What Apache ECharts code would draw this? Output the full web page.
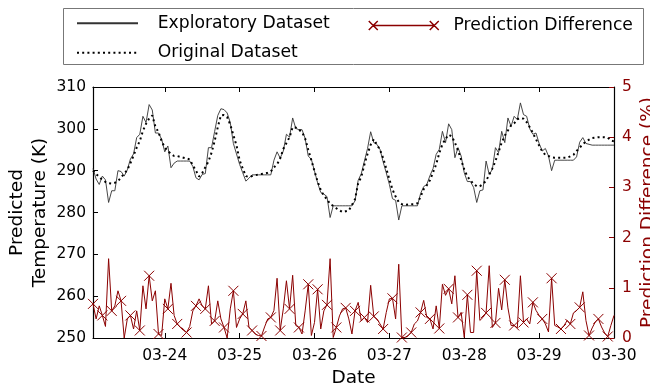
<!DOCTYPE html>
<html><head><meta charset="utf-8">
<script src="https://cdn.jsdelivr.net/npm/echarts@6/dist/echarts.min.js"></script>
<style>html,body{margin:0;padding:0;background:#fff}#c{width:650px;height:388px}</style>
</head><body><div id="c"></div>
<script>
// Hourly samples from 03-23 01:00 to 03-30 00:00
const days = ['03-23','03-24','03-25','03-26','03-27','03-28','03-29','03-30'];
const firstHour = 1;
const tickLabels = ['03-24','03-25','03-26','03-27','03-28','03-29','03-30'];

const exploratory = [
290.5,288,286.7,288.7,287.8,282.4,285.2,285.2,290,289.8,
288.7,290.2,292.8,294,297.9,298.7,303,301.5,305.8,304.5,
299,299,297.5,294.5,295.9,290.7,291.8,292.3,292.3,292.3,
292.3,292.3,291,288.3,287.8,289.1,289.3,295.5,295.5,299.4,
303.2,304.8,304.6,303.8,301.5,296.5,294,291.5,289.5,287.5,
288.2,289,289,289,289,289,289,289,292.5,294.5,
293,294.7,298.7,298,302.6,300.1,299.8,299.8,297.7,293.5,
292.7,289.9,287.1,284.8,284.4,283.8,278.8,281.6,281.6,281.6,
281.6,281.6,281.6,281.6,282.8,287.7,289.3,292.3,295.3,299.3,
296.7,296.3,295.1,292.1,289.5,286.7,283.3,282.9,278.2,281.6,
281.6,281.6,281.6,281.6,281.6,284.5,286.2,286.7,288.8,290.5,
293.9,295.1,299.4,296.7,301.2,299.8,293.1,295.5,293.5,289.5,
287.4,287.4,286,282.4,285.2,285.4,292.3,289.1,290.3,295.5,
294.3,299.4,296.7,302.6,300.6,303,302.2,306.2,303.4,303,
300,298.7,299,296.5,294.7,295.3,293.5,290,292.5,292.5,
292.5,292.5,292.5,292.5,292.5,293.3,296.8,297.9,296.5,296.3,
296.1,296.1,296.1,296.1,296.1,296.1,296.1,296.1];

const original = [
290,289.2,288.5,287.8,287.3,287,286.9,287.1,287.5,288.4,
289.3,290.2,291.8,293.6,295.5,297.1,299.5,301.2,302.5,303.2,
300.5,299.2,297.1,295.5,294.7,294,293.5,293.5,293.3,293.1,
292.9,292.7,291.3,290,288.6,289.4,290.8,292.2,294.3,297.1,
300.4,303.2,303.3,302.8,301,298.5,296,292.5,290.5,288.7,
288.5,288.7,288.9,289.1,289.2,289.3,289.5,289.8,290.8,291.5,
292.9,295.2,296.6,298,300.4,300.3,299.8,299.2,297.7,295,
292.5,289.9,287.4,285.4,284,283.2,282,281.6,281,280.5,
280.1,280.3,280.5,281.8,283.2,287,288.5,291.5,294,296.2,
297.5,296.2,295,293,290.5,287.9,285.5,283.8,282.5,282,
281.8,281.9,282,282,282.2,283.8,285.6,286.5,287.7,289.6,
291.5,294.2,296.3,297.6,298.6,298.2,296.7,294.8,292.6,290.3,
288.6,287.7,286.8,286.3,286.3,286.8,287.6,289,290.5,292.3,
294.5,296.7,298.4,299.6,300.8,301.3,302.3,302.6,302.4,301.6,
300.4,299,297.5,296,294.6,293.8,293.5,293.2,293.1,293.1,
293.1,293.1,293.1,293.4,293.8,294.7,295.5,296.3,297,297.4,
297.8,297.9,298,298,298,297.9,297.2,297];

const predDiff = [
0.68,0.38,0.64,0.45,0.23,1.58,0.54,0.64,0.94,0.74,
0,0.38,0.45,0.18,0.54,0.15,1.04,0.58,1.24,0.74,
0.94,0.08,0.05,0.78,0.58,1.09,0.45,0.28,0.21,0.15,
0.11,0.23,0.54,0.64,0.78,0.64,0.58,1.04,0.28,0.34,
0.74,0.38,0.21,0,0.58,0.94,0.21,0.38,0.48,0.74,
0.21,0.15,0.08,0.05,0.04,0.22,0.38,0.41,0.55,1.19,
0.15,0.58,1.14,0.58,1.25,0.25,0.21,0.08,0.54,1.07,
0.05,0.31,0.97,0.18,0.54,0.66,1.58,0.01,0.21,0.44,
0.58,0.6,0.38,0.08,0.54,0.71,0.34,0.41,0.31,1.05,
0.43,0.38,0.28,0.18,0.51,0.78,0.79,0.38,1.47,0.01,
0.01,0.05,0.11,0.28,0.34,0.51,0.75,0.41,0.38,0.18,
0.64,0.19,1.07,0.85,0.98,0.68,1.24,0.41,0.51,0.01,
0.86,0.11,0.11,1.34,0.35,0.41,0.5,1.44,0.21,0.3,
0.99,0.56,1.16,0.6,0.25,0.25,0.2,1.24,0.31,0.38,
0.28,0.71,0.55,0.45,0.38,0.28,0.12,1.19,0.25,0.22,
0.18,0.25,0.35,0.28,0.5,0.55,0.61,0.92,0.35,0.05,
0.2,0.32,0.38,0.22,0.1,0.03,0.25,0.45];

const markerEvery = 3;

const categories = [];
for (let i = 0; i < exploratory.length; i++) {
  const t = firstHour + i;
  const hh = t % 24;
  categories.push(days[Math.floor(t / 24)] + ' ' + (hh < 10 ? '0' : '') + hh + ':00');
}
const isDayStart = (idx) => {
  const v = categories[idx];
  return v.endsWith(' 00:00') && tickLabels.indexOf(v.split(' ')[0]) >= 0;
};

const FONT = 'DejaVu Sans';
const RED = '#8b0000';
const X_ICON = 'path://M0,0L10,10M0,10L10,0';

const chart = echarts.init(document.getElementById('c'), null, {renderer: 'canvas'});
chart.setOption({
  animation: false,
  textStyle: {fontFamily: FONT},
  grid: {left: 93, right: 36, top: 87, bottom: 50, containLabel: false, outerBoundsMode: 'none'},
  legend: [
    {
      orient: 'vertical', left: 76, top: 14.7, padding: 0,
      itemWidth: 61, itemHeight: 14, itemGap: 12.6,
      itemStyle: {opacity: 0},
      textStyle: {fontFamily: FONT, fontSize: 17.2, color: '#000', padding: [0, 0, 0, 14.7]},
      data: ['Exploratory Dataset', 'Original Dataset']
    },
    {
      orient: 'vertical', left: 368, top: 17, padding: 0,
      itemWidth: 70, itemHeight: 9, itemGap: 12,
      textStyle: {fontFamily: FONT, fontSize: 17.2, color: '#000', padding: [0, 0, 0, 9.7]},
      data: [{
        name: 'Prediction Difference',
        icon: 'path://M0,0L9,9M0,9L9,0M4.5,4.5L65.5,4.5M61,0L70,9M61,9L70,0',
        itemStyle: {color: 'rgba(0,0,0,0)', borderColor: RED, borderWidth: 1.5}
      }]
    }
  ],
  graphic: [{
    type: 'rect', left: 63, top: 8, z: -1,
    shape: {width: 580, height: 56},
    style: {fill: '#fff', stroke: '#777', lineWidth: 1}
  }],
  xAxis: [
    {
      type: 'category', data: categories, boundaryGap: false,
      name: 'Date', nameLocation: 'middle', nameGap: 31, nameMoveOverlap: false,
      nameTextStyle: {fontFamily: FONT, fontSize: 18.5, color: '#000'},
      axisLine: {lineStyle: {color: '#000', width: 1.2}},
      axisTick: {inside: true, length: 5, interval: isDayStart, lineStyle: {color: '#000'}},
      axisLabel: {interval: isDayStart, margin: 10, fontFamily: FONT, fontSize: 15.5, color: '#000',
                  formatter: v => v.split(' ')[0]},
      splitLine: {show: false}
    },
    {
      type: 'category', data: categories, boundaryGap: false, position: 'top',
      axisLine: {lineStyle: {color: '#000', width: 1.2}},
      axisTick: {inside: true, length: 5, interval: isDayStart, lineStyle: {color: '#000'}},
      axisLabel: {show: false}, splitLine: {show: false}
    }
  ],
  yAxis: [
    {
      type: 'value', min: 250, max: 310, interval: 10, position: 'left',
      name: 'Predicted\nTemperature (K)', nameLocation: 'middle', nameGap: 41, nameRotate: 90,
      nameMoveOverlap: false,
      nameTextStyle: {fontFamily: FONT, fontSize: 18.5, color: '#000', lineHeight: 23},
      axisLine: {show: true, lineStyle: {color: '#000', width: 1.2}},
      axisTick: {show: true, inside: true, length: 5, lineStyle: {color: '#000'}},
      axisLabel: {margin: 7, fontFamily: FONT, fontSize: 15.5, color: '#000'},
      splitLine: {show: false}
    },
    {
      type: 'value', min: 0, max: 5, interval: 1, position: 'right',
      name: 'Prediction Difference (%)', nameLocation: 'middle', nameGap: 25, nameRotate: 90,
      nameMoveOverlap: false,
      nameTextStyle: {fontFamily: FONT, fontSize: 18.5, color: RED},
      axisLine: {show: true, lineStyle: {color: '#000', width: 1.2}},
      axisTick: {show: true, inside: true, length: 5, lineStyle: {color: RED}},
      axisLabel: {margin: 8, fontFamily: FONT, fontSize: 15.5, color: RED},
      splitLine: {show: false}
    }
  ],
  series: [
    {
      name: 'Exploratory Dataset', type: 'line', xAxisIndex: 0, yAxisIndex: 0,
      data: exploratory, symbol: 'none', showSymbol: false,
      lineStyle: {color: '#333', width: 0.9}, itemStyle: {color: '#333'}, z: 3
    },
    {
      name: 'Original Dataset', type: 'line', xAxisIndex: 0, yAxisIndex: 0,
      data: original, symbol: 'none', showSymbol: false,
      lineStyle: {color: '#000', width: 2, type: [2, 3.2]}, itemStyle: {color: '#000'}, z: 4
    },
    {
      name: 'Prediction Difference', type: 'line', xAxisIndex: 0, yAxisIndex: 1,
      data: predDiff.map((v, i) => i % markerEvery === 0 ? v : {value: v, symbol: 'none'}),
      symbol: X_ICON, symbolSize: 10, showSymbol: true, showAllSymbol: true,
      lineStyle: {color: RED, width: 1},
      itemStyle: {color: 'rgba(0,0,0,0)', borderColor: RED, borderWidth: 1}, z: 5
    }
  ]
});
</script>
</body></html>
